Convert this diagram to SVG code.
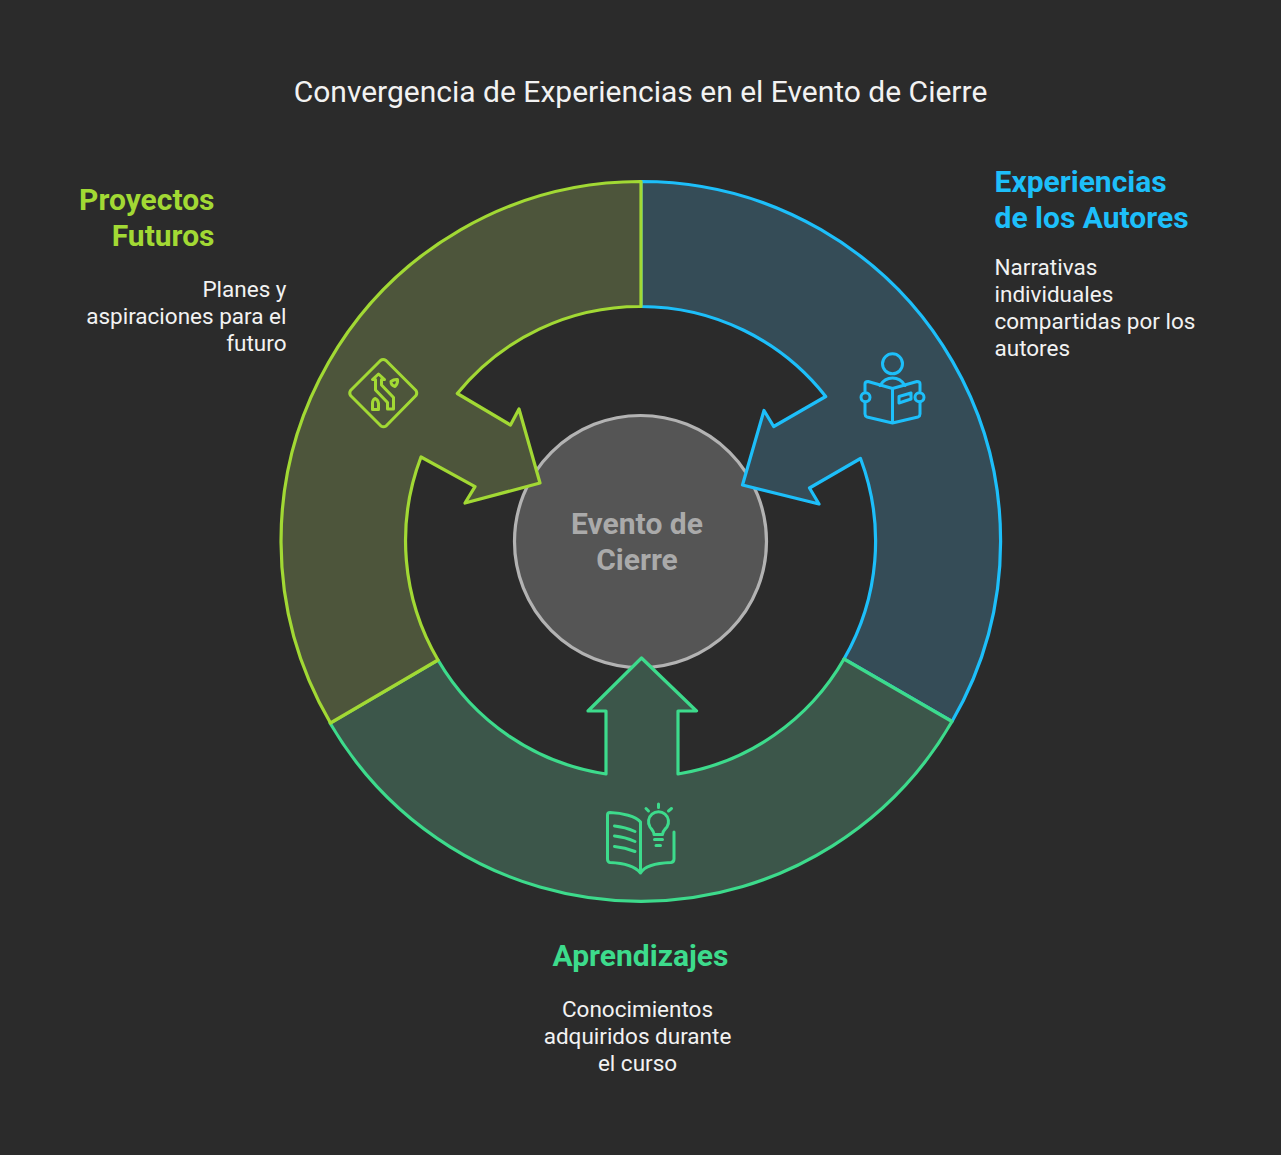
<svg xmlns="http://www.w3.org/2000/svg" width="1281" height="1155" viewBox="0 0 1281 1155">
<style>
text{font-family:Roboto,"Liberation Sans",sans-serif}
.t{font-size:30px;fill:#f2f2f2}
.h{font-size:30px;font-weight:700}
.b{font-size:22.500px;fill:#f2f2f2}
.seg{stroke-width:3.200;stroke-linejoin:round}
.ic{fill:none;stroke-width:3;stroke-linecap:round;stroke-linejoin:round}
.blue{stroke:#1DBFFA}.green{stroke:#3DDB8C}.lime{stroke:#A2D934}
</style>
<rect width="1281" height="1155" fill="#2b2b2b"/>
<text class="t" x="640.500" y="102" text-anchor="middle">Convergencia de Experiencias en el Evento de Cierre</text>
<g id="evento">
<circle cx="640.500" cy="541.500" r="126" fill="#555555" stroke="#b3b3b3" stroke-width="3.200"/>
<text x="637" y="534" text-anchor="middle" font-size="30" font-weight="700" fill="#aaaaaa">Evento de</text>
<text x="637" y="570" text-anchor="middle" font-size="30" font-weight="700" fill="#aaaaaa">Cierre</text>
</g>
<g id="connectors">
<path id="seg-autores" class="seg blue" fill="#354c57" d="M641 181.500A359.500 359.500 0 0 1 952 721.500L844 659A235 235 0 0 0 860.500 458.500L809.500 488L819 504L742.500 485L764 410.500L773.700 426.500L825.700 396.500A235 235 0 0 0 641 306.500Z"/>
<path id="seg-aprendizajes" class="seg green" fill="#3c564a" d="M952 721.500A359.500 359.500 0 0 1 330 723L438 660A235 235 0 0 0 606 774V711H588L641.500 658L696.500 711H678V774A235 235 0 0 0 844 659Z"/>
<path id="seg-proyectos" class="seg lime" fill="#4d553b" d="M330.500 723A359.500 359.500 0 0 1 641 181.500V306.500A235 235 0 0 0 457.300 393.500L510.500 425L519 409L540 483L465 503L475 486.700L421 457A235 235 0 0 0 438 660Z"/>
</g>
<g id="autores">
<text class="h" fill="#1DBFFA"><tspan x="994.500" y="192">Experiencias</tspan><tspan x="994.500" y="228">de los Autores</tspan></text>
<text class="b"><tspan x="994.500" y="275">Narrativas</tspan><tspan x="994.500" y="302">individuales</tspan><tspan x="994.500" y="329">compartidas por los</tspan><tspan x="994.500" y="356">autores</tspan></text>
<g class="ic blue">
<circle cx="892.500" cy="363.800" r="10"/>
<path d="M880 385.500C886 375.500 899 375.500 905 385.500"/>
<path d="M892.500 388.500L868 381.500Q865 381.500 865 384V391M865 402V414Q865 416 867 417L892.500 423L918 417Q920 416 920 414V402M920 391V384Q920 381.500 917 381.500L892.500 388.500V423"/>
<rect x="861" y="392.800" width="9" height="9" rx="4.500"/>
<rect x="915" y="392.800" width="9" height="9" rx="4.500"/>
<path d="M899 396.500L911 393V399L899 403Z"/>
</g>
</g>
<g id="aprendizajes">
<text class="h" fill="#3DDB8C" x="640.500" y="966" text-anchor="middle">Aprendizajes</text>
<text class="b" text-anchor="middle"><tspan x="637.500" y="1017">Conocimientos</tspan><tspan x="637.500" y="1044">adquiridos durante</tspan><tspan x="637.500" y="1071">el curso</tspan></text>
<g class="ic green">
<path d="M640.500 873V822C636 816 622 813 610 812.500Q607.500 812.500 607.500 815V859Q607.500 862 610 862.500C622 863 634 865 640.500 873C645 865 658 863 671 862.500Q674 862 674 859V832"/>
<path d="M614.500 826Q625 827 635 831.500M614.500 836Q625 837 635 841.500M614.500 846.500Q625 847.500 635 851.500"/>
<path d="M654 834.500C654 831 652 830 650 827A10 10 0 1 1 667 827C664.500 830 662.500 831 662.500 834.500Z"/>
<path d="M654.500 839.500H662.500M656 845.500H660.500M658.500 804V807.500M646 808.500L648.500 811M671.500 808.500L668.500 811"/>
</g>
</g>
<g id="proyectos">
<text class="h" fill="#A2D934" text-anchor="end"><tspan x="214.500" y="210">Proyectos</tspan><tspan x="214.500" y="246">Futuros</tspan></text>
<text class="b" text-anchor="end"><tspan x="286.500" y="297">Planes y</tspan><tspan x="286.500" y="324">aspiraciones para el</tspan><tspan x="286.500" y="351">futuro</tspan></text>
<g class="ic lime">
<path d="M380.500 360.500L350.500 390.500Q349 393 350.500 395.500L381 426Q383.500 427.500 386 426L416 395.500Q417.500 393 416 390.500L386 360.500Q383 358.500 380.500 360.500Z"/>
<path d="M378.500 374L372.500 379.500H375.500V390L387.500 402.500V409H393.500V397.500L381.500 385V379.500H384.500Z"/>
<path d="M372.500 409.500H378.500V403.500Q378 399.500 375 398.500Q372.500 400 372.500 403Z"/>
<path d="M391 381.500Q394 379 397.500 379.500Q398 383.500 395 386.500Q391 385.500 391 381.500Z"/>
</g>
</g>
</svg>
